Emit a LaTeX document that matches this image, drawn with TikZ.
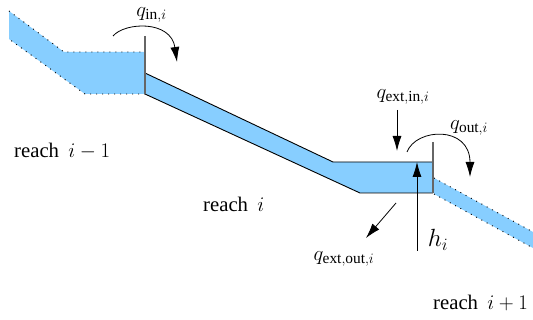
\documentclass[tikz,border=0pt]{standalone}
\usepackage{fontspec}
\setmainfont{Liberation Serif}
\usetikzlibrary{arrows.meta}
\DeclareMathSizes{22}{22}{15.4}{11}
\DeclareMathSizes{24}{24}{16}{12}
\newcommand{\lbl}{\fontsize{20.74}{24}\selectfont}
\newcommand{\qlbl}{\fontsize{22}{25}\selectfont}
\newcommand{\hlbl}{\fontsize{24}{28}\selectfont}
\tikzset{
  water/.style={fill=myblue,draw=none},
  bed/.style={draw=black,line width=0.9pt},
  dotbed/.style={draw=black,line width=0.9pt,dash pattern=on 1pt off 5pt},
  weir/.style={draw=black!60,line width=1.2pt},
  flow/.style={draw=black,line width=0.8pt,-{Latex[length=15pt,width=9pt]}},
  lab/.style={inner sep=0pt,font=\lbl},
  qlab/.style={inner sep=0pt,font=\qlbl},
  hlab/.style={inner sep=0pt,font=\hlbl}
}
\definecolor{myblue}{RGB}{135,206,255}
\begin{document}
\begin{tikzpicture}[x=1pt,y=-1pt]
\useasboundingbox (0,0) rectangle (533,320);
% reach i-1
\coordinate (a1) at (9,11); \coordinate (a2) at (64,52); \coordinate (a3) at (145,52);
\coordinate (a4) at (145,94); \coordinate (a5) at (85,94); \coordinate (a6) at (9,39);
\fill[water] (a1)--(a2)--(a3)--(a4)--(a5)--(a6)--cycle;
\draw[dotbed] (a1)--(a2)--(a3);
\draw[dotbed] (a4)--(a5)--(a6);
% reach i
\coordinate (b1) at (145,73); \coordinate (b2) at (333,162); \coordinate (b3) at (433,162);
\coordinate (b4) at (433,193); \coordinate (b5) at (360,193); \coordinate (b6) at (145,94);
\fill[water] (b1)--(b2)--(b3)--(b4)--(b5)--(b6)--cycle;
\draw[bed] (b1)--(b2)--(b3);
\draw[bed] (b4)--(b5)--(b6);
% reach i+1
\coordinate (c1) at (434,178); \coordinate (c2) at (533,232); \coordinate (c3) at (533,248); \coordinate (c4) at (434,194);
\fill[water] (c1)--(c2)--(c3)--(c4)--cycle;
\draw[dotbed] (c1)--(c2);
\draw[dotbed] (c4)--(c3);
% weirs
\coordinate (w1t) at (145,36); \coordinate (w2t) at (433,142);
\draw[weir] (w1t)--(a4);
\draw[weir] (w2t)--(b4);
% flows
\coordinate (qi1) at (113,36); \coordinate (qi2) at (177,62);
\coordinate (qo1) at (407,152); \coordinate (qo2) at (470,177);
\draw[flow] (qi1) .. controls (125,22) and (171,20) .. (qi2);
\draw[flow] (qo1) .. controls (416,128) and (470,125) .. (qo2);
\coordinate (ei1) at (397,110); \coordinate (ei2) at (397,151);
\draw[flow] (ei1)--(ei2);
\coordinate (eo1) at (396,203); \coordinate (eo2) at (366,238);
\draw[flow] (eo1)--(eo2);
\coordinate (h1) at (417,251); \coordinate (h2) at (417,162);
\draw[flow] (h1)--(h2);
% labels
\node[qlab] (lqi) at (151.5,15) {$q_{\mathrm{in},i}$};
\node[qlab] (lei) at (403,97) {$q_{\mathrm{ext,in},i}$};
\node[qlab] (lqo) at (469,128) {$q_{\mathrm{out},i}$};
\node[qlab] (leo) at (344,259) {$q_{\mathrm{ext,out},i}$};
\node[hlab] (lh) at (438,240) {$h_i$};
\node[lab,anchor=west] (r1) at (14,151) {reach\hspace{4pt} $i-1$};
\node[lab,anchor=west] (r2) at (203,204) {reach\hspace{4pt} $i$};
\node[lab,anchor=west] (r3) at (433,303) {reach\hspace{4pt} $i+1$};
\end{tikzpicture}
\end{document}
